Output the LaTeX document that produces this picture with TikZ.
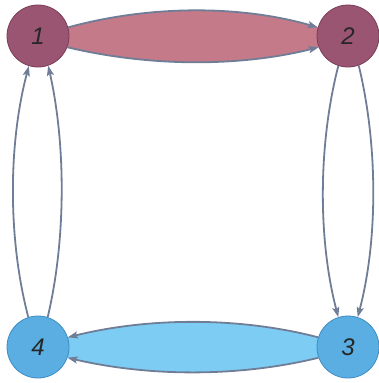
\documentclass[tikz,border=0pt]{standalone}
\usepackage{fontspec}
\setmainfont{Liberation Sans}
\usetikzlibrary{arrows.meta,backgrounds}
\definecolor{purplenodec}{HTML}{9A5572}
\definecolor{purpleborder}{HTML}{7A3D59}
\definecolor{pinklens}{HTML}{C47A88}
\definecolor{bluenodec}{HTML}{5AAEE2}
\definecolor{blueborder}{HTML}{3D8CC2}
\definecolor{bluelens}{HTML}{7DCCF4}
\definecolor{edgec}{HTML}{6F7E96}
\tikzset{
  statenode/.style={circle, minimum size=62pt, inner sep=0pt, line width=0.8pt,
    font=\fontsize{24}{24}\selectfont\itshape, text=black!85},
  purplenode/.style={statenode, fill=purplenodec, draw=purpleborder},
  bluenode/.style={statenode, fill=bluenodec, draw=blueborder},
  edgeline/.style={draw=edgec, line width=1.8pt,
    -{Stealth[length=10pt,width=7pt,inset=2pt]}},
}
\begin{document}
\begin{tikzpicture}[x=1pt,y=-1pt]
\useasboundingbox (0,0) rectangle (379,383);
\node[purplenode] (n1) at (38,36) {1};
\node[purplenode] (n2) at (348,36) {2};
\node[bluenode] (n3) at (348,347) {3};
\node[bluenode] (n4) at (38,347) {4};
\begin{scope}[on background layer]
% lens fills
\fill[pinklens] (n1.16) .. controls (150,5) and (240,5) .. (n2.164)
  -- (n2.-159) .. controls (240,67) and (150,67) .. (n1.-21) -- cycle;
\fill[bluelens] (n3.162) .. controls (240,317) and (150,317) .. (n4.18)
  -- (n4.-20) .. controls (150,377) and (240,377) .. (n3.200) -- cycle;
% edges
\draw[edgeline] (n1.16) .. controls (150,5) and (240,5) .. (n2.164);
\draw[edgeline] (n1.-21) .. controls (150,67) and (240,67) .. (n2.-159);
\draw[edgeline] (n3.162) .. controls (240,317) and (150,317) .. (n4.18);
\draw[edgeline] (n3.200) .. controls (240,377) and (150,377) .. (n4.-20);
\draw[edgeline] (n4.108) .. controls (8,240) and (8,145) .. (n1.253);
\draw[edgeline] (n4.72) .. controls (66,240) and (66,145) .. (n1.-71);
\draw[edgeline] (n2.252) .. controls (318,145) and (318,240) .. (n3.108);
\draw[edgeline] (n2.290) .. controls (378,145) and (378,240) .. (n3.72);
\end{scope}
\end{tikzpicture}
\end{document}
